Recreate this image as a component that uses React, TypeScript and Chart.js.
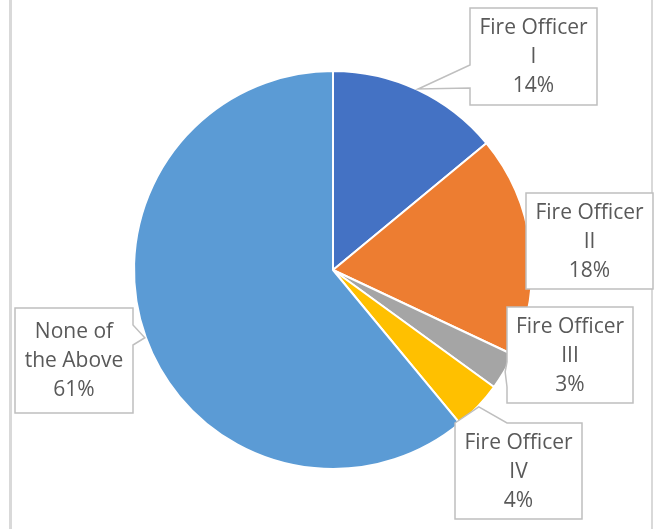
import React, { useEffect, useRef } from "react";
import { Chart, registerables } from "chart.js";

Chart.register(...registerables);

const categories = ["Fire Officer I", "Fire Officer II", "Fire Officer III", "Fire Officer IV", "None of the Above"];
const values = [14, 18, 3, 4, 61];
const labelLines = [
  ["Fire Officer", "I", "14%"],
  ["Fire Officer", "II", "18%"],
  ["Fire Officer", "III", "3%"],
  ["Fire Officer", "IV", "4%"],
  ["None of", "the Above", "61%"],
];
const colors = ["#4472C4", "#ED7D31", "#A5A5A5", "#FFC000", "#5B9BD5"];

// callout box layout (pixels) and wedge bases
type Box = { x: number; y: number; w: number; h: number; side: string | null; a: number; b: number };
const boxes: Box[] = [
  { x: 470, y: 8, w: 127, h: 97, side: "left", a: 65, b: 88 },
  { x: 526, y: 193, w: 127, h: 96, side: null, a: 0, b: 0 },
  { x: 507, y: 307, w: 126, h: 96, side: "left", a: 362, b: 387 },
  { x: 455, y: 423, w: 127, h: 96, side: "top", a: 455, b: 507 },
  { x: 15, y: 308, w: 118, h: 105, side: "right", a: 325, b: 345 },
];

const calloutPlugin = {
  id: "callouts",
  afterDraw(chart: any) {
    const ctx = chart.ctx;
    ctx.save();
    // outer chart border fragments
    ctx.fillStyle = "#d9d9d9";
    ctx.fillRect(9, 0, 3, 529);
    ctx.fillRect(651, 0, 2, 529);

    const meta = chart.getDatasetMeta(0);
    meta.data.forEach((arc: any, i: number) => {
      const bx = boxes[i];
      const mid = (arc.startAngle + arc.endAngle) / 2;
      const tx = arc.x + Math.cos(mid) * (arc.outerRadius + 1);
      const ty = arc.y + Math.sin(mid) * (arc.outerRadius + 1);
      const { x, y, w, h } = bx;
      ctx.beginPath();
      ctx.moveTo(x, y);
      if (bx.side === "top") {
        ctx.lineTo(bx.a, y);
        ctx.lineTo(tx, ty);
        ctx.lineTo(bx.b, y);
      }
      ctx.lineTo(x + w, y);
      if (bx.side === "right") {
        ctx.lineTo(x + w, bx.a);
        ctx.lineTo(tx, ty);
        ctx.lineTo(x + w, bx.b);
      }
      ctx.lineTo(x + w, y + h);
      ctx.lineTo(x, y + h);
      if (bx.side === "left") {
        ctx.lineTo(x, bx.b);
        ctx.lineTo(tx, ty);
        ctx.lineTo(x, bx.a);
      }
      ctx.closePath();
      ctx.fillStyle = "#ffffff";
      ctx.fill();
      ctx.strokeStyle = "#bfbfbf";
      ctx.lineWidth = 1.5;
      ctx.stroke();

      ctx.fillStyle = "#595959";
      ctx.font = '21px "Open Sans"';
      ctx.textAlign = "center";
      ctx.textBaseline = "middle";
      const lines = labelLines[i];
      const lh = 29;
      const cy = y + h / 2 + 1;
      lines.forEach((t, k) => {
        ctx.fillText(t, x + w / 2, cy + (k - (lines.length - 1) / 2) * lh);
      });
    });
    ctx.restore();
  },
};

export default function App() {
  const ref = useRef<HTMLCanvasElement>(null);
  useEffect(() => {
    if (!ref.current) return;
    const chart = new Chart(ref.current, {
      type: "pie",
      data: {
        labels: categories,
        datasets: [
          {
            data: values,
            backgroundColor: colors,
            borderColor: "#ffffff",
            borderWidth: 2,
          },
        ],
      },
      options: {
        responsive: false,
        animation: false,
        layout: { padding: { left: 133, top: 70, right: 121, bottom: 59 } },
        plugins: {
          legend: { display: false },
          tooltip: { enabled: false },
          title: { display: false },
        },
      },
      plugins: [calloutPlugin],
    });
    return () => chart.destroy();
  }, []);
  return (
    <div style={{ position: "absolute", left: 0, top: 0, width: 654, height: 529, background: "#ffffff" }}>
      <canvas ref={ref} width={654} height={529} style={{ display: "block", width: 654, height: 529 }} />
    </div>
  );
}
